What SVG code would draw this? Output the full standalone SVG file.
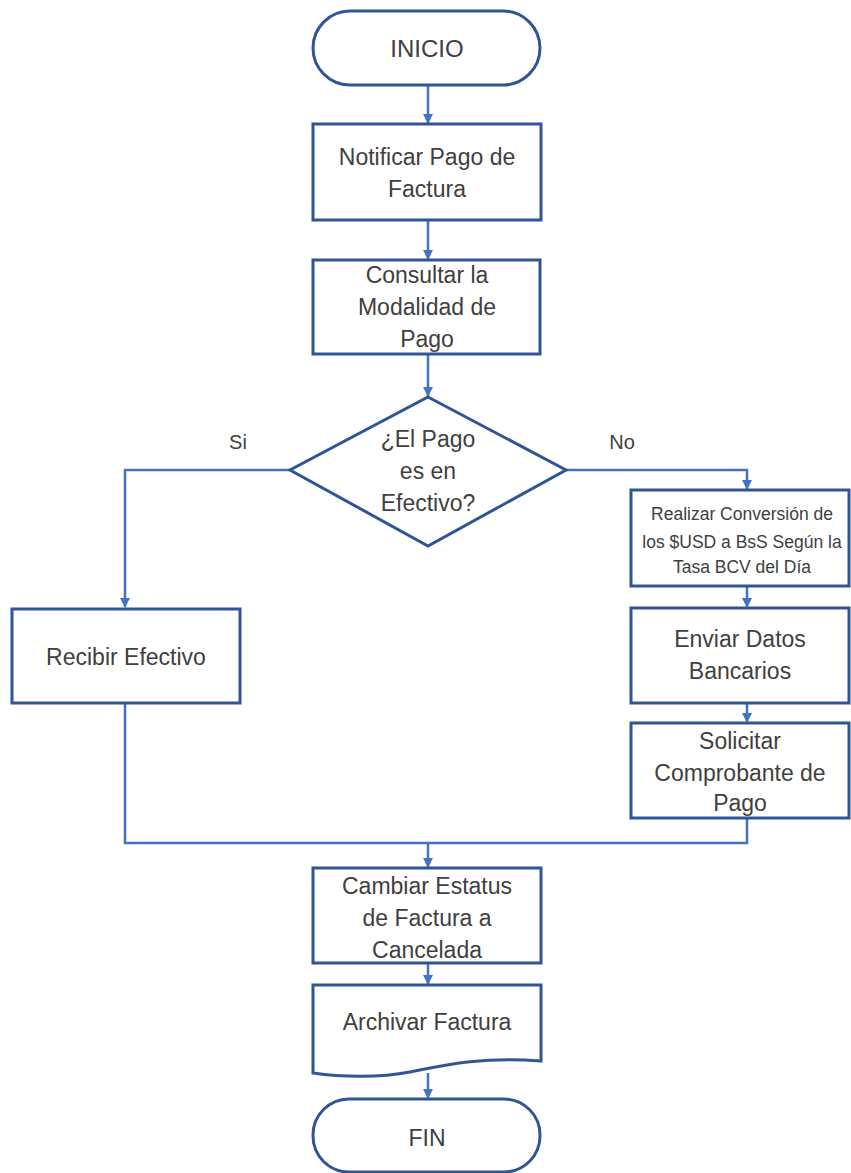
<svg xmlns="http://www.w3.org/2000/svg" width="851" height="1173" viewBox="0 0 851 1173">
<style>
.n{fill:#fff;stroke:#2F5597;stroke-width:3}
.c{fill:none;stroke:#4472C4;stroke-width:2.5}
.t{font-family:"Liberation Sans",Arial,sans-serif;font-size:23px;fill:#404040;text-anchor:middle}
.s{font-size:17.5px}
.l{font-family:"Liberation Sans",Arial,sans-serif;font-size:20px;fill:#404040;text-anchor:middle}
</style>
<defs>
<marker id="a" viewBox="0 0 10 10" refX="9" refY="5" markerWidth="4" markerHeight="4" orient="auto" markerUnits="strokeWidth">
<path d="M0,0 L10,5 L0,10 z" fill="#4472C4"/>
</marker>
</defs>
<rect width="851" height="1173" fill="#fff"/>
<g id="connectors">
<path class="c" d="M428,86 V123" marker-end="url(#a)"/>
<path class="c" d="M428,221 V259" marker-end="url(#a)"/>
<path class="c" d="M428,355 V396" marker-end="url(#a)"/>
<path class="c" d="M290,470 H125 V607" marker-end="url(#a)"/>
<path class="c" d="M566,470 H747 V489" marker-end="url(#a)"/>
<path class="c" d="M747,587 V607" marker-end="url(#a)"/>
<path class="c" d="M747,704 V722" marker-end="url(#a)"/>
<path class="c" d="M125,704 V843 H747 V819"/>
<path class="c" d="M428,843 V867" marker-end="url(#a)"/>
<path class="c" d="M428,964 V984" marker-end="url(#a)"/>
<path class="c" d="M428,1073 V1098" marker-end="url(#a)"/>
<text class="l" x="238" y="449">Si</text>
<text class="l" x="622" y="449">No</text>
</g>
<g id="inicio">
<rect class="n" x="313" y="11" width="227" height="74" rx="37"/>
<text class="t" x="427" y="57" style="font-size:24px">INICIO</text>
</g>
<g id="notificar">
<rect class="n" x="313" y="124" width="228" height="96"/>
<text class="t" x="427" y="165">Notificar Pago de</text>
<text class="t" x="427" y="197">Factura</text>
</g>
<g id="consultar">
<rect class="n" x="313" y="260" width="227" height="94"/>
<text class="t" x="427" y="283">Consultar la</text>
<text class="t" x="427" y="315">Modalidad de</text>
<text class="t" x="427" y="347">Pago</text>
</g>
<g id="decision">
<polygon class="n" points="428,397 566,470 428,546 290,470"/>
<text class="t" x="428" y="447">¿El Pago</text>
<text class="t" x="428" y="479">es en</text>
<text class="t" x="428" y="511">Efectivo?</text>
</g>
<g id="recibir">
<rect class="n" x="12" y="609" width="228" height="94"/>
<text class="t" x="126" y="665">Recibir Efectivo</text>
</g>
<g id="realizar">
<rect class="n" x="631" y="490" width="218" height="96"/>
<text class="t s" x="742" y="520">Realizar Conversión  de</text>
<text class="t s" x="742" y="548">los $USD a BsS Según la</text>
<text class="t s" x="742" y="573">Tasa BCV del Día</text>
</g>
<g id="enviar">
<rect class="n" x="631" y="608" width="218" height="95"/>
<text class="t" x="740" y="647">Enviar Datos</text>
<text class="t" x="740" y="679">Bancarios</text>
</g>
<g id="solicitar">
<rect class="n" x="631" y="723" width="218" height="95"/>
<text class="t" x="740" y="749">Solicitar</text>
<text class="t" x="740" y="781">Comprobante de</text>
<text class="t" x="740" y="811">Pago</text>
</g>
<g id="cambiar">
<rect class="n" x="313" y="868" width="228" height="95"/>
<text class="t" x="427" y="894">Cambiar Estatus</text>
<text class="t" x="427" y="926">de Factura a</text>
<text class="t" x="427" y="958">Cancelada</text>
</g>
<g id="archivar">
<path class="n" d="M313,985 H541 V1061 C480,1056 440,1066 410,1072 C380,1078 340,1077 313,1073 Z"/>
<text class="t" x="427" y="1030">Archivar Factura</text>
</g>
<g id="fin">
<rect class="n" x="313" y="1099" width="227" height="73" rx="36"/>
<text class="t" x="427" y="1146">FIN</text>
</g>
</svg>
